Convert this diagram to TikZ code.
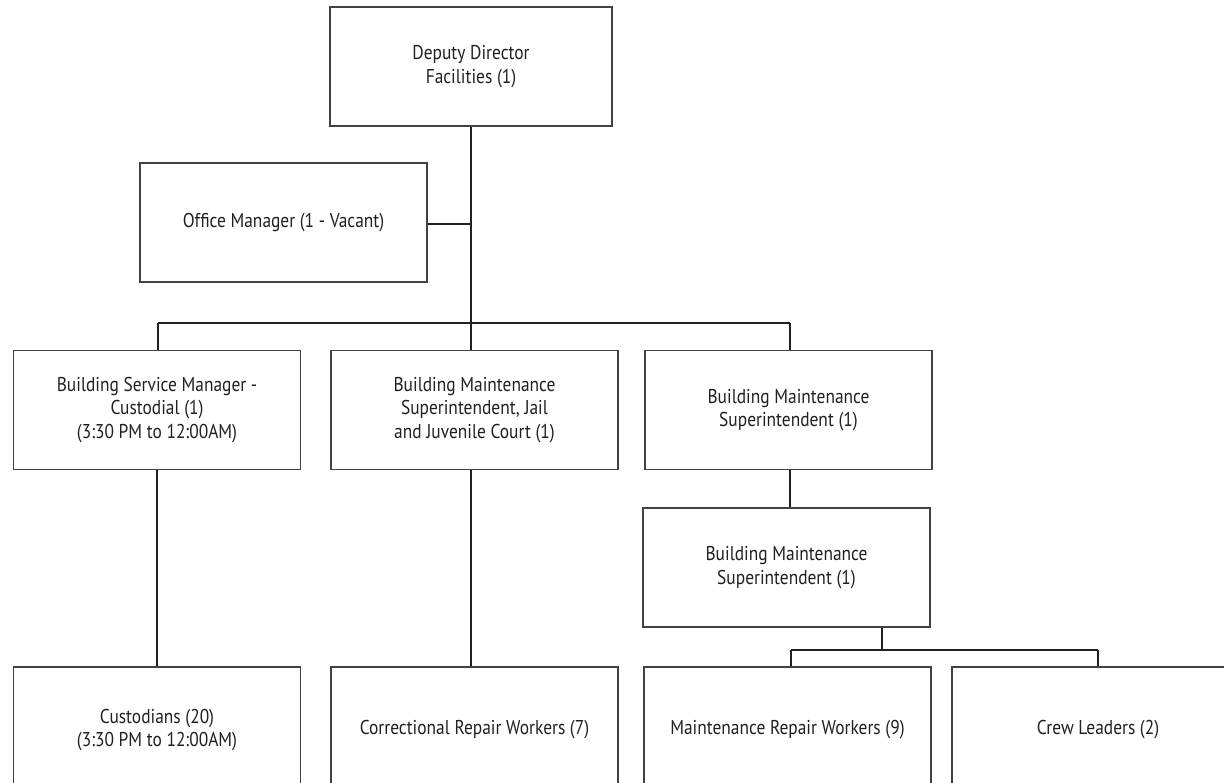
\documentclass[tikz,border=0pt]{standalone}
\usepackage{fontspec}
\setmainfont[FakeStretch=0.87]{PT Sans}
\definecolor{ink}{HTML}{231F20}
\begin{document}
\begin{tikzpicture}[x=1pt,y=-1pt,
  box/.style={draw=ink!85, line width=1.2pt, rectangle, align=center,
    text=ink, font=\fontsize{20}{23.5}\selectfont, inner sep=0pt,
    minimum width=287pt, minimum height=119pt},
  link/.style={draw=ink, line width=2.4pt}]
\useasboundingbox (0,0) rectangle (1224,783);
\clip (0,0) rectangle (1224,783);
\fill[white] (0,0) rectangle (1224,783);

% top level and staff office
\node[box, minimum width=282pt] (dd) at (471,66.5) {Deputy Director\\Facilities (1)};
\node[box] (om) at (283.5,222.5) {Office Manager (1 - Vacant)};

% second row
\node[box] (bsm) at (157,410) {Building Service Manager -\\Custodial (1)\\(3:30 PM to 12:00AM)};
\node[box] (bmj) at (474.5,410) {Building Maintenance\\Superintendent, Jail\\and Juvenile Court (1)};
\node[box] (bms) at (788.5,410) {Building Maintenance\\Superintendent (1)};
\node[box] (bms2) at (786.5,567.5) {Building Maintenance\\Superintendent (1)};

% bottom row (runs past the page edge)
\node[box, minimum height=126pt] (cus) at (157,730) {Custodians (20)\\(3:30 PM to 12:00AM)};
\node[box, minimum height=126pt] (crw) at (474.5,730) {Correctional Repair Workers (7)};
\node[box, minimum height=126pt] (mrw) at (787.5,730) {Maintenance Repair Workers (9)};
\node[box, minimum height=126pt, minimum width=292pt] (crew) at (1098,730) {Crew Leaders (2)};

% bus coordinates
\coordinate (busL) at (158,323);
\coordinate (busR) at (790,323);
\coordinate (split) at (882,650);
\coordinate (splitL) at (791,650);
\coordinate (splitR) at (1098,650);

% connectors
\draw[link] (dd.south) -- (dd.south |- busL);
\draw[link] (om.east |- 0,224) -- (dd.south |- 0,224);
\draw[link] (busL) -- (busR);
\draw[link] (busL) -- (busL |- bsm.north);
\draw[link] (dd.south |- busL) -- (dd.south |- bmj.north);
\draw[link] (busR) -- (busR |- bms.north);
\draw[link] (bsm.south) -- (cus.north);
\draw[link] (dd.south |- bmj.south) -- (dd.south |- crw.north);
\draw[link] (busR |- bms.south) -- (busR |- bms2.north);
\draw[link] (split |- bms2.south) -- (split);
\draw[link] (splitL) -- (splitR);
\draw[link] (splitL) -- (splitL |- mrw.north);
\draw[link] (splitR) -- (splitR |- crew.north);
\end{tikzpicture}
\end{document}
